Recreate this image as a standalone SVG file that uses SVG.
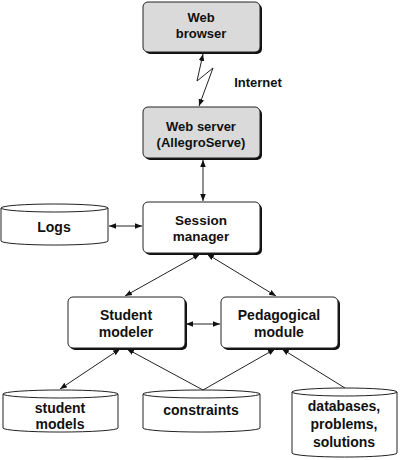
<svg xmlns="http://www.w3.org/2000/svg" width="400" height="460" viewBox="0 0 400 460">
<defs>
<marker id="ah" viewBox="0 0 10 10" refX="10" refY="5" markerWidth="7" markerHeight="7" orient="auto-start-reverse" markerUnits="userSpaceOnUse">
<path d="M0,1 L10,5 L0,9 z" fill="#111"/>
</marker>
<style>
text{font-family:"Liberation Sans",Arial,sans-serif;font-weight:bold;font-size:13px;fill:#111;text-anchor:middle}
.w{font-size:14px}
.m{font-size:13.5px}
.box{fill:#fff;stroke:#222;stroke-width:1}
.gbox{fill:#dadada;stroke:#222;stroke-width:1}
.sh{fill:#111}
.cyl{fill:#fff;stroke:#222;stroke-width:1}
.c{fill:none;stroke:#222;stroke-width:1;marker-start:url(#ah);marker-end:url(#ah)}
.c1{fill:none;stroke:#222;stroke-width:1;marker-end:url(#ah)}
</style>
</defs>
<g id="web-browser">
<rect class="sh" x="145" y="4" width="117" height="50" rx="5"/>
<rect class="gbox" x="143" y="2" width="117" height="50" rx="5"/>
<text x="201" y="22">Web</text>
<text x="201" y="38">browser</text>
</g>
<g id="web-server">
<rect class="sh" x="145" y="109" width="117" height="51" rx="5"/>
<rect class="gbox" x="143" y="107" width="117" height="51" rx="5"/>
<text x="201" y="131">Web server</text>
<text x="201" y="147">(AllegroServe)</text>
</g>
<g id="session-manager">
<rect class="sh" x="145" y="204" width="117" height="51" rx="5"/>
<rect class="box" x="143" y="202" width="117" height="51" rx="5"/>
<text class="m" x="201" y="225">Session</text>
<text class="m" x="201" y="241">manager</text>
</g>
<g id="student-modeler">
<rect class="sh" x="70" y="299" width="117" height="51" rx="5"/>
<rect class="box" x="68" y="297" width="117" height="51" rx="5"/>
<text class="w" x="126" y="320">Student</text>
<text class="w" x="126" y="337">modeler</text>
</g>
<g id="pedagogical-module">
<rect class="sh" x="223" y="299" width="117" height="51" rx="5"/>
<rect class="box" x="221" y="297" width="117" height="51" rx="5"/>
<text class="w" x="279" y="320">Pedagogical</text>
<text class="w" x="279" y="337">module</text>
</g>
<g id="logs">
<path class="cyl" d="M1,208 L1,241 A53,4 0 0 0 108,241 L108,208"/>
<ellipse class="cyl" cx="54.5" cy="208" rx="53.5" ry="4"/>
<text class="w" x="54" y="232">Logs</text>
</g>
<g id="student-models">
<path class="cyl" d="M3,394 L3,428 A57,4 0 0 0 118,428 L118,394"/>
<ellipse class="cyl" cx="60.5" cy="394" rx="57.5" ry="4"/>
<text class="w" x="60" y="413">student</text>
<text class="w" x="60" y="429">models</text>
</g>
<g id="constraints">
<path class="cyl" d="M143,394 L143,428 A58,4 0 0 0 260,428 L260,394"/>
<ellipse class="cyl" cx="201.5" cy="394" rx="58.5" ry="4"/>
<text class="w" x="201" y="415">constraints</text>
</g>
<g id="databases">
<path class="cyl" d="M292,392 L292,453 A52,4 0 0 0 397,453 L397,392"/>
<ellipse class="cyl" cx="344.5" cy="392" rx="52.5" ry="4"/>
<text class="w" x="344" y="411">databases,</text>
<text class="w" x="344" y="429">problems,</text>
<text class="w" x="344" y="447">solutions</text>
</g>
<g id="connectors">
<polyline class="c" points="203,54 197,81 213,68 199,106"/>
<text x="258" y="87">Internet</text>
<line class="c" x1="203" y1="160" x2="203" y2="201"/>
<line class="c" x1="109" y1="226" x2="142" y2="226"/>
<line class="c" x1="200" y1="254" x2="125" y2="296"/>
<line class="c" x1="207" y1="254" x2="276" y2="296"/>
<line class="c" x1="186" y1="324" x2="220" y2="324"/>
<line class="c" x1="120" y1="349" x2="60" y2="389"/>
<line class="c1" x1="203" y1="390" x2="127" y2="349"/>
<line class="c1" x1="203" y1="390" x2="275" y2="349"/>
<line class="c1" x1="345" y1="388" x2="282" y2="349"/>
</g>
</svg>
